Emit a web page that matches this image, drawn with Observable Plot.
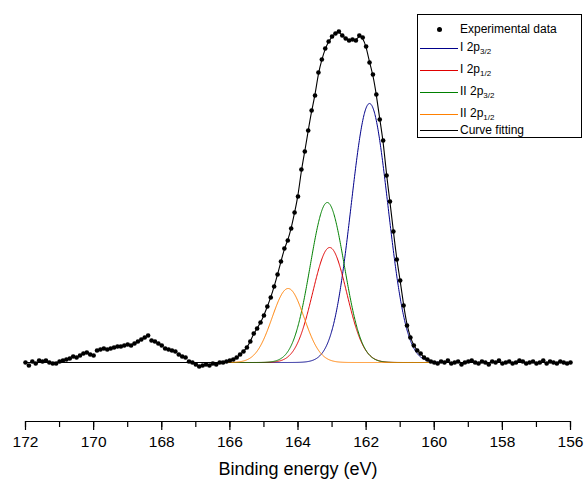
<!DOCTYPE html>
<html><head><meta charset="utf-8">
<script src="https://cdn.jsdelivr.net/npm/d3@7"></script>
<script src="https://cdn.jsdelivr.net/npm/@observablehq/plot@0.6"></script>
<style>
body{margin:0;background:#fff;font-family:"Liberation Sans",Arial,sans-serif}
#wrap{position:relative;width:586px;height:488px}
#legend{position:absolute;left:417px;top:14px;width:163px;height:122px;border:1px solid #000;background:#fff;font-size:12px}
#legend .row{position:absolute;left:0;height:16px;display:flex;align-items:center}
#legend .sw{width:38px;margin-left:2px;margin-right:2px;display:flex;justify-content:center;align-items:center}
sub{font-size:8px}
</style></head><body>
<div id="wrap"><div id="chart"></div>
<div id="legend"></div></div>
<script>
// experimental spectrum, 172 -> 156 eV in 0.1 eV steps (counts above baseline)
const expStart = 172.0, expStep = 0.1;
const expCounts = [
0,-3,1,-1,2,1,2,0,-1,-1,1,2,
3,4,6,5,7,9,10,8,7,
12,13,14,13,14,15,16,16,17,18,17,19,21,23,25,27,
22,21,19,17,14,13,12,11,8,6,5,1,0,-2,
-4,-3,-2,-3,-1,-2,0,0,1,2,
3,5,8,11,15,21,29,34,40,47,
56,65,76,88,101,114,122,134,150,166,
193,211,232,252,267,290,303,314,321,326,
329,331,327,324,322,323,322,327,325,316,
300,288,268,243,222,187,161,131,103,82,
57,37,25,17,12,9,5,3,1,0,
-1,1,0,2,-1,0,1,-2,0,1,2,0,-1,1,0,-2,1,0,2,-1,
0,1,-1,0,2,1,-1,0,1,-1,0,2,-1,1,0,-1,1,0,-1,0
];
// fitted components
const compNames = ["I 2p3/2", "I 2p1/2", "II 2p3/2", "II 2p1/2"];
const compColors = ["#00008b", "#e00000", "#008000", "#ff8000"];
const compCenters = [161.9, 163.07, 163.14, 164.29];
const compHeights = [259, 115, 160, 74];
const compSigmas = [0.54, 0.5, 0.5, 0.47];
const fitRange = [159.8, 166.3];

const expData = expCounts.map((c, i) => ({e: +(expStart - i*expStep).toFixed(2), c}));
const grid = d3.range(0, 1601).map(i => 172 - i*0.01);
const comps = compNames.flatMap((name, k) => grid.map(e => ({
  name, e, c: compHeights[k]*Math.exp(-((e-compCenters[k])**2)/(2*compSigmas[k]**2))
})));
const fit = expData.map(d => ({e: d.e, c: d.e >= fitRange[0] && d.e <= fitRange[1] ? d.c : 0}));

const chart = Plot.plot({
  width: 586, height: 488,
  marginLeft: 25, marginRight: 16, marginTop: 20, marginBottom: 67,
  style: {fontFamily: "Liberation Sans, Arial, sans-serif", fontSize: "15.5px", color: "#000"},
  x: {domain: [172, 156]},
  y: {domain: [-59, 342], axis: null},
  color: {domain: compNames, range: compColors},
  marks: [
    Plot.ruleY([-59], {strokeWidth: 1.2}),
    Plot.ruleX(d3.range(156, 173, 1), {x: d => d, y1: -59, y2: -65, strokeWidth: 1.2}),
    Plot.axisX({ticks: d3.range(156, 173, 2), tickSize: 9, tickPadding: 5, fontSize: 15.5, strokeWidth: 1.2,
      label: "Binding energy (eV)", labelAnchor: "center", labelArrow: "none", labelOffset: 53}),
    Plot.line(comps, {x: "e", y: "c", z: "name", stroke: "name", strokeWidth: 1}),
    Plot.line(fit, {x: "e", y: "c", stroke: "#000", strokeWidth: 1.1, curve: "basis"}),
    Plot.dot(expData, {x: "e", y: "c", r: 2.3, fill: "#000"})
  ]
});
chart.querySelectorAll("g[aria-label='x-axis label'] text").forEach(t => t.style.fontSize = "18px");
d3.select("#chart").append(() => chart);

// legend
const legendRows = [
  {html: "Experimental data", dot: true, top: 6},
  {html: "I 2p<sub>3/2</sub>", color: compColors[0], top: 25},
  {html: "I 2p<sub>1/2</sub>", color: compColors[1], top: 47},
  {html: "II 2p<sub>3/2</sub>", color: compColors[2], top: 69},
  {html: "II 2p<sub>1/2</sub>", color: compColors[3], top: 91},
  {html: "Curve fitting", color: "#000", top: 107}
];
const lg = d3.select("#legend");
legendRows.forEach(r => {
  const row = lg.append("div").attr("class", "row").style("top", r.top + "px");
  const sw = row.append("div").attr("class", "sw");
  if (r.dot) sw.append("div").style("width", "5px").style("height", "5px").style("border-radius", "50%").style("background", "#000");
  else sw.append("div").style("width", "38px").style("height", "1px").style("background", r.color);
  row.append("span").html(r.html);
});
</script>
</body></html>
